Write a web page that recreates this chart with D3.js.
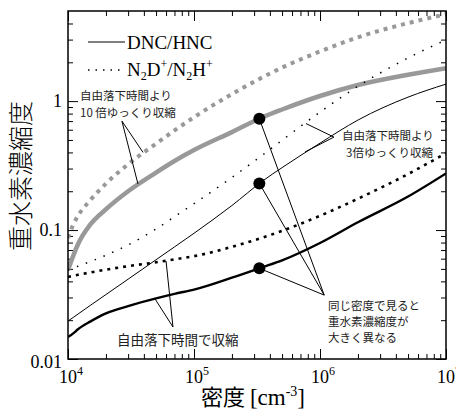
<!DOCTYPE html>
<html><head><meta charset="utf-8">
<script src="https://cdn.jsdelivr.net/npm/d3@7"></script>
<style>
body{margin:0;background:#fff}svg{display:block}
.serif{font-family:"Liberation Serif","Tinos","Times New Roman","DejaVu Serif",serif}
.cjk{font-family:"Noto Sans CJK JP","Noto Sans",sans-serif}
</style>
</head><body>
<svg id="c" width="456" height="412"></svg>
<script>
// ---- data ----
const density = [1e4, 1.1e4, 1.2e4, 1.5e4, 2e4, 3e4, 5e4, 7e4, 1e5, 2e5, 3.5e5, 5e5, 1e6, 2e6, 5e6, 1e7];
// free-fall collapse
const dncFreefall = [0.0148, 0.0158, 0.0170, 0.0195, 0.0226, 0.0257, 0.0295, 0.0320, 0.0345, 0.0427, 0.0515, 0.0582, 0.0794, 0.115, 0.182, 0.275];
const n2dFreefall = [0.0433, 0.0442, 0.0450, 0.0469, 0.0493, 0.0525, 0.0562, 0.0592, 0.0627, 0.0741, 0.0875, 0.0986, 0.129, 0.175, 0.272, 0.395];
// 3x slower than free fall
const dncSlow3    = [0.0197, 0.0210, 0.0223, 0.0260, 0.0316, 0.0416, 0.0589, 0.0740, 0.0944, 0.155, 0.240, 0.305, 0.472, 0.713, 1.074, 1.355];
const n2dSlow3    = [0.0490, 0.0507, 0.0524, 0.0569, 0.0638, 0.0767, 0.102, 0.127, 0.160, 0.256, 0.382, 0.497, 0.822, 1.303, 2.163, 2.985];
// 10x slower than free fall
const dncSlow10   = [0.049, 0.0631, 0.0776, 0.110, 0.145, 0.200, 0.279, 0.343, 0.417, 0.575, 0.750, 0.861, 1.096, 1.334, 1.603, 1.803];
const n2dSlow10   = [0.0871, 0.110, 0.129, 0.170, 0.229, 0.324, 0.468, 0.592, 0.750, 1.135, 1.531, 1.820, 2.427, 3.126, 4.027, 4.721];
// highlighted points at the same density
const markDensity = 3.3e5;
const markValues  = [0.73, 0.23, 0.0505];

const xTickValues = [1e4, 1e5, 1e6, 1e7];
const xTickExps   = ["4", "5", "6", "7"];
const yTickValues = [0.01, 0.1, 1];
const yTickLabels = ["0.01", "0.1", "1"];

// ---- layout ----
const svg = d3.select("#c");
const L = 68, R = 446, T = 11, B = 359;
const x = d3.scaleLog().domain([1e4, 1e7]).range([L, R]);
const y = d3.scaleLog().domain([0.01, 5]).range([B, T]);

const xMinor = [], yMinor = [];
[1e4, 1e5, 1e6].forEach(d => { for (let k = 2; k <= 9; k++) xMinor.push(k * d); });
[0.01, 0.1].forEach(d => { for (let k = 2; k <= 9; k++) yMinor.push(k * d); });
[2, 3, 4].forEach(k => yMinor.push(k));

function ax(gen, tx, vals, size) {
  const g = svg.append("g").attr("transform", tx)
    .call(gen.tickValues(vals).tickSize(size).tickFormat(""));
  g.select(".domain").remove();
  g.selectAll("line").attr("stroke", "#000").attr("stroke-width", 1);
}
[[xTickValues, -10], [xMinor, -5]].forEach(([v, s]) => {
  ax(d3.axisBottom(x), `translate(0,${B})`, v, s);
  ax(d3.axisTop(x), `translate(0,${T})`, v, s);
});
[[yTickValues, -10], [yMinor, -5]].forEach(([v, s]) => {
  ax(d3.axisLeft(y), `translate(${L},0)`, v, s);
  ax(d3.axisRight(y), `translate(${R},0)`, v, s);
});

svg.append("defs").append("clipPath").attr("id", "clip")
  .append("rect").attr("x", L).attr("y", T).attr("width", R - L).attr("height", B - T);

const line = d3.line().x(d => x(d[0])).y(d => y(d[1])).curve(d3.curveMonotoneX);
const series = [
  { v: n2dSlow10,   stroke: "#999", w: 4,   dash: "4,5" },
  { v: dncSlow10,   stroke: "#999", w: 4.5, dash: null },
  { v: n2dSlow3,    stroke: "#000", w: 1.5, dash: "1.5,8" },
  { v: dncSlow3,    stroke: "#000", w: 1,   dash: null },
  { v: n2dFreefall, stroke: "#000", w: 2.6, dash: "3,5" },
  { v: dncFreefall, stroke: "#000", w: 2.4, dash: null },
];
const gl = svg.append("g").attr("clip-path", "url(#clip)");
series.forEach(s => {
  gl.append("path").datum(density.map((n, i) => [n, s.v[i]]))
    .attr("d", line).attr("fill", "none")
    .attr("stroke", s.stroke).attr("stroke-width", s.w)
    .attr("stroke-dasharray", s.dash);
});

// frame
svg.append("rect").attr("x", L).attr("y", T).attr("width", R - L).attr("height", B - T)
  .attr("fill", "none").attr("stroke", "#000").attr("stroke-width", 1.5);

// annotation pointer lines (data coordinates)
const pointers = [
  { from: [2.68e4, 0.70], to: [[3.94e4, 0.40], [3.59e4, 0.228]] },
  { from: [1.29e6, 0.526], to: [[7.74e5, 0.67], [7.6e5, 0.403]] },
  { from: [6.81e4, 0.0177], to: [[4.9e4, 0.0293], [6.0e4, 0.0575]] },
  { from: [1.08e6, 0.0313], to: markValues.map(v => [markDensity, v]) },
];
pointers.forEach(p => p.to.forEach(t => {
  svg.append("line").attr("x1", x(p.from[0])).attr("y1", y(p.from[1]))
    .attr("x2", x(t[0])).attr("y2", y(t[1])).attr("stroke", "#000").attr("stroke-width", 1);
}));

svg.selectAll("circle.mk").data(markValues).enter().append("circle")
  .attr("cx", x(markDensity)).attr("cy", d => y(d)).attr("r", 6).attr("fill", "#000");

// tick labels
yTickValues.forEach((v, i) => {
  svg.append("text").attr("class", "serif").attr("x", 62).attr("y", y(v) + (i === 0 ? 9 : 6))
    .attr("text-anchor", "end").attr("font-size", 18)
    .text(yTickLabels[i]);
});
xTickValues.forEach((v, i) => {
  const t = svg.append("text").attr("class", "serif").attr("x", x(v) - 9).attr("y", 383)
    .attr("font-size", 18);
  t.append("tspan").text("10");
  t.append("tspan").attr("dy", -8).attr("font-size", 12).text(xTickExps[i]);
});

// axis titles
const xt = svg.append("text").attr("class", "serif").attr("x", 253).attr("y", 405)
  .attr("text-anchor", "middle").attr("font-size", 23);
xt.append("tspan").attr("class", "cjk").attr("font-size", 22).text("密度 ");
xt.append("tspan").text("[cm");
xt.append("tspan").attr("dy", -9).attr("font-size", 14).text("-3");
xt.append("tspan").attr("dy", 9).text("]");

svg.append("text").attr("class", "cjk").attr("transform", "translate(19,176) rotate(-90)")
  .attr("text-anchor", "middle").attr("dominant-baseline", "central")
  .attr("font-size", 25).attr("font-weight", 300)
  .text("重水素濃縮度");

// legend
svg.append("line").attr("x1", 88).attr("x2", 125).attr("y1", 42).attr("y2", 42)
  .attr("stroke", "#000").attr("stroke-width", 1);
svg.append("line").attr("x1", 88).attr("x2", 125).attr("y1", 70).attr("y2", 70)
  .attr("stroke", "#000").attr("stroke-width", 1.5).attr("stroke-dasharray", "1.5,6");
svg.append("text").attr("class", "serif").attr("x", 127).attr("y", 49).attr("font-size", 19)
  .text("DNC/HNC");
const lg = svg.append("text").attr("class", "serif").attr("x", 127).attr("y", 76).attr("font-size", 19);
lg.append("tspan").text("N");
lg.append("tspan").attr("dy", 4).attr("font-size", 12).text("2");
lg.append("tspan").attr("dy", -4).text("D");
lg.append("tspan").attr("dy", -8).attr("font-size", 12).text("+");
lg.append("tspan").attr("dy", 8).text("/N");
lg.append("tspan").attr("dy", 4).attr("font-size", 12).text("2");
lg.append("tspan").attr("dy", -4).text("H");
lg.append("tspan").attr("dy", -8).attr("font-size", 12).text("+");

// annotation texts
const notes = [
  { x: 80, y: 100, t: "自由落下時間より", fs: 11.5 },
  { x: 80, y: 117, t: "10 倍ゆっくり収縮", fs: 11.5 },
  { x: 342, y: 140, t: "自由落下時間より", fs: 11.5 },
  { x: 346, y: 157, t: "3倍ゆっくり収縮", fs: 11.5 },
  { x: 117, y: 345, t: "自由落下時間で収縮", fs: 13.5 },
  { x: 328, y: 310, t: "同じ密度で見ると", fs: 11.5 },
  { x: 328, y: 326, t: "重水素濃縮度が", fs: 11.5 },
  { x: 328, y: 342, t: "大きく異なる", fs: 11.5 },
];
notes.forEach(n => svg.append("text").attr("class", "cjk").attr("x", n.x).attr("y", n.y)
  .attr("font-size", n.fs).attr("fill", "#222").text(n.t));
</script>
</body></html>
